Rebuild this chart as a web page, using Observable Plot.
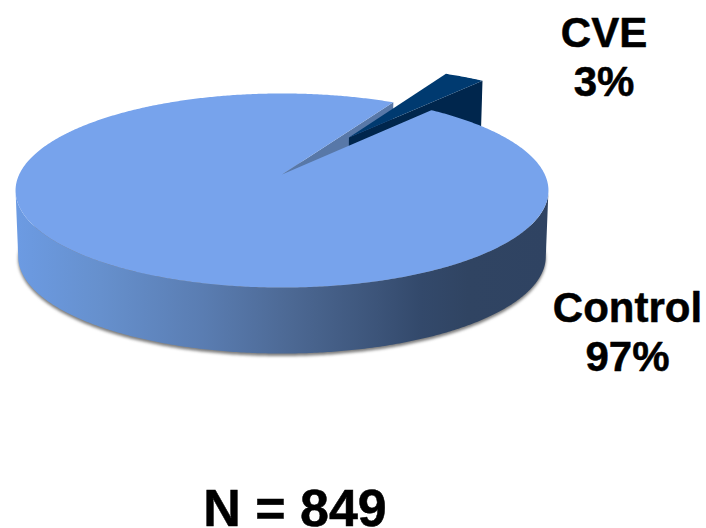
<!DOCTYPE html>
<html>
<head>
<meta charset="utf-8">
<script src="https://cdn.jsdelivr.net/npm/d3@7"></script>
<script src="https://cdn.jsdelivr.net/npm/@observablehq/plot@0.6"></script>
<style>
  html, body { margin: 0; padding: 0; background: #fff; }
  #chart svg { display: block; }
  #caption {
    width: 590px; text-align: center; margin-top: 10px;
    font: bold 52px "Liberation Sans", Arial, sans-serif; line-height: 40px; color: #000;
    -webkit-text-stroke: 0.5px #000;
  }
</style>
</head>
<body>
<div id="chart"></div>
<div id="caption"></div>
<script>
// Study population split, drawn as a tilted disc with one slice pulled out.
const categories = ["CVE", "Control"];
const shares = [3, 97];
const sampleSize = 849;

const W = 706, H = 478;

// Disc layout
const startDeg = 29;      // clockwise from 12 o'clock
const centre = {x: 281.5, y: 174};
const radius = {x: 262.8, y: 94.4};
const tilt = 0.165;       // perspective foreshortening towards the back
const depth = 66;
const baseScale = 0.99;
const explode = 0.5;
const explodeDeg = 33;

const rad = Math.PI / 180;
const slices = d3.pie().sort(null).startAngle(startDeg * rad).endAngle((startDeg + 360) * rad)(shares);
const cve = slices[0], control = slices[1];

// Disc coordinates (u to the right, v to the back) to chart coordinates.
function project(u, v, drop = 0) {
  const w = 1 + tilt * v;
  const s = drop ? baseScale : 1;
  return {x: centre.x + s * radius.x * u / w, y: centre.y + drop - radius.y * v / w};
}
function rimPoints(a0, a1, ox = 0, oy = 0, drop = 0) {
  const n = Math.max(2, Math.ceil(Math.abs(a1 - a0) / (0.5 * rad)));
  return d3.range(n + 1).map(i => {
    const a = a0 + (a1 - a0) * i / n;
    return project(Math.sin(a) + ox, Math.cos(a) + oy, drop);
  });
}

// Main slice: top face, side wall, shadow and the exposed cut face.
const controlTop = [project(0, 0), ...rimPoints(control.startAngle, control.endAngle)];
const wallFrom = 99.5 * rad, wallTo = 260.5 * rad;
const frontWall = [...rimPoints(wallFrom, wallTo), ...rimPoints(wallTo, wallFrom, 0, 0, depth)];
const shadowOutline = rimPoints(0, 2 * Math.PI, 0, 0, depth);
const cutEdge = cve.startAngle;
const cutFace = [
  project(0, 0),
  project(Math.sin(cutEdge), Math.cos(cutEdge)),
  project(Math.sin(cutEdge), Math.cos(cutEdge), depth),
  project(0, 0, depth)
];

// Pulled-out slice.
const ox = explode * Math.sin(explodeDeg * rad), oy = explode * Math.cos(explodeDeg * rad);
const cveTop = [project(ox, oy), ...rimPoints(cve.startAngle, cve.endAngle, ox, oy)];
const cveEnd = [Math.sin(cve.endAngle) + ox, Math.cos(cve.endAngle) + oy];
const cveSide = [
  project(ox, oy),
  project(cveEnd[0], cveEnd[1]),
  project(cveEnd[0], cveEnd[1], depth),
  project(ox, oy, depth)
];

const wallStops = [
  [0, "#6c9be3"], [0.16, "#6690cd"], [0.35, "#5a7db2"], [0.52, "#4c6893"],
  [0.68, "#3c5479"], [0.76, "#33496b"], [0.85, "#304462"], [1, "#2f4362"]
];

const wallGradient = () => {
  const defs = d3.create("svg:defs");
  const g = defs.append("linearGradient").attr("id", "wall-shade");
  for (const [offset, color] of wallStops) {
    g.append("stop").attr("offset", offset).attr("stop-color", color);
  }
  return defs.node();
};

const face = (points, fill, extra = {}) =>
  Plot.line(points, {x: "x", y: "y", fill, stroke: null, ...extra});

const labelRows = [
  {x: 603.5, y: 55, text: `${categories[0]}\n${shares[0]}%`},
  {x: 627, y: 330, text: `${categories[1]}\n${shares[1]}%`}
];

const chart = Plot.plot({
  width: W, height: H, margin: 0,
  style: {background: "#fff", overflow: "visible"},
  x: {domain: [0, W], range: [0, W], axis: null},
  y: {domain: [0, H], range: [0, H], axis: null},
  marks: [
    wallGradient,
    face(shadowOutline, "#7d7d7d", {dy: 2.5, imageFilter: "blur(1.5px)"}),
    face(frontWall, "url(#wall-shade)"),
    face(cutFace, "#5878a8"),
    face(cveSide, "#00264d"),
    face(cveTop, "#003a70"),
    face(controlTop, "#77a3ec"),
    Plot.text(labelRows, {
      x: "x", y: "y", text: "text",
      fontFamily: "Liberation Sans, Arial, sans-serif",
      fontWeight: "bold", fontSize: 42, lineHeight: 1.17, fill: "#000",
      stroke: "#000", strokeWidth: 0.5
    })
  ]
});

document.getElementById("chart").append(chart);
document.getElementById("caption").textContent = `N = ${sampleSize}`;
</script>
</body>
</html>
